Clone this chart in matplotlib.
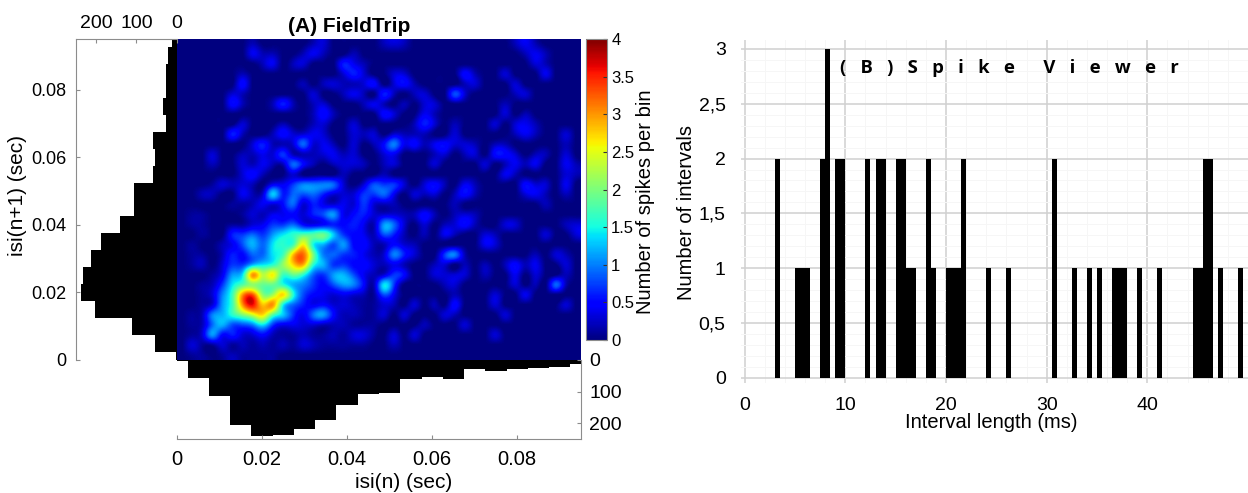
#!/usr/bin/env python

"""
joint isi density with marginals (A) next to an interval histogram (B)
"""

import numpy as np
import matplotlib
matplotlib.use('Agg')
import matplotlib.pyplot as plt

plt.rcParams['font.family'] = ['Liberation Sans', 'DejaVu Sans']

W, H = 1248, 493
GRAY = '#8c8c8c'

# panel A: bins are centred on multiples of 5 ms
isi_bins = [0.005 * i for i in range(20)]
isi_n1_counts = [2, 55, 111, 202, 236, 232, 212, 187, 140, 105, 105, 60, 55, 60, 28, 35, 28, 26, 23, 13]
isi_n_counts = [2, 56, 114, 205, 239, 236, 217, 191, 142, 109, 105, 61, 55, 60, 29, 35, 27, 24, 23, 13]
cbar_ticks = [0, 0.5, 1, 1.5, 2, 2.5, 3, 3.5, 4]
cbar_ticklabels = ['0', '0.5', '1', '1.5', '2', '2.5', '3', '3.5', '4']
isi_ticks = [0, 0.02, 0.04, 0.06, 0.08]
isi_ticklabels = ['0', '0.02', '0.04', '0.06', '0.08']
count_ticks = [0, 100, 200]

# density, tenths of a spike per bin, top row first
density = [
    [0,0,0,0,0,0,0,2,0,0,0,0,0,2,3,0,0,0,0,0,2,3,2,0,0,0,0,0,0,0,0,0,0,2,4,2,0,0,0,0],
    [0,0,0,0,0,0,0,4,2,2,0,0,2,4,2,0,0,2,0,0,0,0,0,0,0,0,0,0,0,0,0,0,0,0,2,4,2,0,0,0],
    [0,0,0,0,0,0,0,0,2,4,0,2,3,0,0,0,6,4,2,0,0,0,0,0,0,0,0,0,0,0,0,0,0,0,0,3,2,0,0,0],
    [0,0,0,0,0,0,2,0,0,0,0,0,0,0,0,0,3,6,3,0,0,3,3,0,0,0,0,0,5,2,0,0,3,0,0,0,4,0,0,0],
    [0,0,0,0,0,0,5,0,0,0,0,0,2,0,2,3,2,2,3,5,0,3,5,2,0,0,0,0,2,3,0,0,0,3,0,0,0,0,0,0],
    [0,0,0,0,0,3,2,0,0,0,0,0,0,3,0,0,2,4,2,0,6,2,0,2,3,0,0,8,3,0,0,0,0,2,3,0,0,0,0,0],
    [0,0,0,0,0,5,2,0,0,2,6,2,0,2,3,0,0,0,2,4,2,0,2,0,3,3,0,0,0,0,0,0,2,0,0,0,0,0,0,0],
    [0,0,0,0,0,0,0,0,0,0,0,0,0,2,5,2,0,0,0,0,5,3,0,0,4,2,0,0,0,0,0,0,3,0,2,0,0,0,0,0],
    [0,0,0,0,0,0,3,0,0,0,2,0,0,2,3,0,0,3,0,0,0,0,0,2,6,3,0,2,0,0,0,3,0,3,4,2,0,0,0,0],
    [0,0,0,0,0,6,2,0,0,2,5,3,3,4,3,0,0,3,2,3,0,3,2,2,2,0,0,3,0,0,0,0,0,2,4,2,0,0,3,0],
    [0,0,0,0,0,0,0,3,6,2,2,3,9,3,4,2,0,3,0,2,5,10,4,5,2,4,5,3,3,2,0,2,2,0,0,0,0,0,2,0],
    [0,0,0,3,0,0,2,2,4,3,7,2,2,2,3,4,2,3,0,0,3,4,0,0,0,2,3,0,2,3,0,5,5,3,0,2,2,0,3,0],
    [0,0,0,2,0,0,3,2,4,2,2,9,5,2,0,2,3,3,2,0,2,3,0,0,0,3,0,0,0,0,3,0,2,4,2,4,0,0,4,2],
    [0,0,0,0,0,0,3,5,2,0,0,3,0,0,0,0,2,0,0,0,2,0,0,0,0,0,0,0,0,0,0,0,4,2,0,0,0,0,3,2],
    [0,0,0,1,3,2,3,2,0,4,4,7,10,10,10,9,3,0,3,8,7,7,3,0,3,5,2,0,4,2,0,0,0,0,5,3,3,0,4,0],
    [0,0,2,2,0,0,4,2,3,13,6,9,8,9,6,3,3,3,7,7,9,4,0,3,2,3,0,2,5,2,0,0,0,0,3,4,2,0,2,0],
    [0,0,0,0,0,1,1,2,4,3,5,9,3,6,4,3,4,3,7,3,2,2,0,0,0,0,0,2,0,0,0,0,0,0,0,0,2,0,0,0],
    [0,1,1,0,0,0,1,3,2,4,4,5,3,6,8,11,4,5,6,3,3,3,2,2,5,2,0,2,3,2,0,0,0,0,0,0,0,0,0,0],
    [0,1,1,0,0,1,1,3,4,7,7,9,5,4,5,6,5,6,4,2,11,9,3,0,3,0,2,3,5,2,0,0,3,3,0,0,0,0,2,3],
    [0,0,1,0,0,6,7,9,7,11,14,16,18,18,19,13,7,5,4,2,8,6,2,0,2,0,4,2,0,0,3,2,0,0,0,0,3,0,0,3],
    [0,1,0,0,2,4,8,12,9,14,16,17,26,15,12,8,11,5,5,2,2,5,3,2,0,0,0,0,0,0,4,3,0,0,0,0,0,0,0,0],
    [0,1,1,0,2,6,5,9,9,14,17,28,32,20,10,9,7,6,4,2,3,10,6,3,0,0,7,10,2,0,0,0,0,0,0,2,0,3,2,0],
    [0,1,2,0,3,7,7,12,14,16,21,27,29,16,12,7,7,5,5,3,2,4,2,0,0,2,3,0,2,0,2,0,2,5,2,4,0,0,3,0],
    [0,0,0,1,4,11,14,30,23,26,17,19,16,9,7,11,12,8,4,2,3,7,5,0,0,3,3,3,3,0,2,0,0,4,0,3,0,0,2,0],
    [0,0,1,2,7,14,18,21,19,19,16,12,10,7,5,8,11,10,5,2,14,7,0,0,0,0,2,3,0,0,0,0,0,3,0,2,0,9,2,0],
    [0,0,1,3,10,17,30,33,21,22,27,16,8,5,4,3,4,3,2,1,8,4,0,0,0,0,0,2,0,0,0,3,0,0,4,0,0,0,0,0],
    [0,0,1,3,11,17,30,36,28,30,15,9,6,4,5,3,3,2,1,1,3,2,0,3,0,2,0,5,0,0,0,3,0,0,0,0,0,0,3,0],
    [0,1,2,10,12,16,20,24,27,18,13,7,4,9,11,5,2,2,1,1,3,0,3,0,0,0,3,2,0,0,0,0,3,0,0,0,0,0,0,0],
    [0,1,2,9,12,8,8,10,14,7,4,4,3,3,2,2,2,1,1,1,0,0,0,0,2,0,0,0,3,0,0,0,0,0,0,0,0,0,0,0],
    [0,1,3,11,5,6,3,3,5,2,1,1,2,1,1,2,1,3,3,1,0,3,0,3,0,0,0,0,0,0,0,3,0,0,0,0,0,0,0,0],
    [0,3,1,1,3,1,2,1,2,1,2,1,3,2,1,1,1,1,1,0,0,2,0,0,0,0,0,0,0,0,0,0,0,0,0,0,0,0,0,0],
    [0,1,1,0,1,2,1,1,1,1,0,0,0,0,0,0,0,0,0,0,0,0,0,0,0,0,0,0,0,0,0,0,0,0,0,0,0,0,0,0],
]

# panel B: left bin edge (ms) and count, 0.5 ms bins
interval_edges = [3, 5, 5.5, 6, 7.5, 8, 9, 9.5, 12, 13, 13.5, 15, 15.5, 16, 16.5, 18, 18.5,
                  20, 20.5, 21, 21.5, 24, 26, 30.5, 32.5, 34, 35, 36.5, 37, 37.5, 39, 41,
                  44.5, 45, 45.5, 46, 47, 49]
interval_counts = [2, 1, 1, 1, 2, 3, 2, 2, 2, 2, 2, 2, 2, 1, 1, 2, 1,
                   1, 1, 1, 2, 1, 1, 2, 1, 1, 1, 1, 1, 1, 1, 1,
                   1, 1, 2, 2, 1, 1]
interval_xticks = [0, 10, 20, 30, 40]
interval_yticks = [0, 0.5, 1, 1.5, 2, 2.5, 3]
interval_yticklabels = ['0', '0,5', '1', '1,5', '2', '2,5', '3']


def axes_px(fig, left, top, right, bottom):
    return fig.add_axes([left / W, 1 - bottom / H, (right - left) / W, (bottom - top) / H])


def fig_xy(x, y):
    return x / W, 1 - y / H


fig = plt.figure(figsize=(W / 100, H / 100), dpi=100)
isi_max = 0.095

# joint density
ax = axes_px(fig, 177, 39, 581, 360)
im = ax.imshow(np.array(density) / 10.0, cmap='jet', vmin=0, vmax=4, aspect='auto',
               interpolation='spline36', extent=[0, isi_max, 0, isi_max])
ax.set_xticks([])
ax.set_yticks([])
for s in ax.spines.values():
    s.set_visible(False)
ax.set_title('(A) FieldTrip', fontsize=15, fontweight='bold', pad=0, x=0.426, y=1.022)

# left marginal
axl = axes_px(fig, 76, 39, 177, 360)
axl.barh(isi_bins, isi_n1_counts, height=0.005, color='k', linewidth=0)
axl.set_xlim(249, 0)
axl.set_ylim(0, isi_max)
axl.spines['right'].set_visible(False)
axl.spines['bottom'].set_visible(False)
axl.spines['left'].set_color(GRAY)
axl.spines['top'].set_color(GRAY)
axl.xaxis.tick_top()
axl.set_xticks(count_ticks)
axl.set_yticks(isi_ticks)
axl.set_yticklabels(isi_ticklabels)
axl.tick_params(direction='in', length=3, color=GRAY)
axl.tick_params(axis='y', labelsize=13, pad=7)
axl.tick_params(axis='x', labelsize=14, pad=5)
axl.set_ylabel('isi(n+1) (sec)', fontsize=15, va='center')
axl.yaxis.set_label_coords(*fig_xy(18, 196), transform=fig.transFigure)

# bottom marginal
axb = axes_px(fig, 177, 360, 581, 439)
axb.bar(isi_bins, isi_n_counts, width=0.005, color='k', linewidth=0)
axb.set_xlim(0, isi_max)
axb.set_ylim(250, 0)
axb.spines['top'].set_visible(False)
axb.spines['left'].set_visible(False)
axb.spines['right'].set_color(GRAY)
axb.spines['bottom'].set_color(GRAY)
axb.yaxis.tick_right()
axb.set_yticks(count_ticks)
axb.set_xticks(isi_ticks)
axb.set_xticklabels(isi_ticklabels)
axb.tick_params(direction='in', length=3, color=GRAY)
axb.tick_params(axis='x', labelsize=14.5, pad=8)
axb.tick_params(axis='y', labelsize=14, pad=6)
axb.set_xlabel('isi(n) (sec)', fontsize=15, va='center')
axb.xaxis.set_label_coords(*fig_xy(404, 483), transform=fig.transFigure)

# colorbar
cax = axes_px(fig, 586, 39, 607, 340)
cb = fig.colorbar(im, cax=cax)
cb.set_ticks(cbar_ticks)
cb.set_ticklabels(cbar_ticklabels)
cb.outline.set_edgecolor(GRAY)
cax.tick_params(direction='in', length=3, width=0.8, labelsize=12, pad=3, color='#333333')
cb.set_label('Number of spikes per bin', fontsize=14.5, va='center')
cax.yaxis.set_label_coords(*fig_xy(645, 202), transform=fig.transFigure)

# interval histogram
axr = axes_px(fig, 741, 40, 1248, 383)
axr.bar(interval_edges, interval_counts, width=0.5, align='edge', color='k', linewidth=0, zorder=3)
axr.set_xlim(-0.36, 50)
axr.set_ylim(-0.048, 3.082)
axr.set_xticks(interval_xticks)
axr.set_yticks(interval_yticks)
axr.set_yticklabels(interval_yticklabels)
axr.set_xticks(np.arange(2, 50, 2), minor=True)
axr.set_yticks(np.arange(0, 3.05, 0.1), minor=True)
axr.grid(True, which='major', color='#d0d0d0', linewidth=1.1, zorder=1)
axr.grid(True, which='minor', color='#f6f6f6', linewidth=0.7, zorder=0)
axr.tick_params(which='both', length=0, labelsize=14)
axr.tick_params(axis='y', pad=11)
axr.tick_params(axis='x', pad=10)
for s in axr.spines.values():
    s.set_visible(False)
axr.set_xlabel('Interval length (ms)', fontsize=14.5, va='center')
axr.xaxis.set_label_coords(*fig_xy(991, 422), transform=fig.transFigure)
axr.set_ylabel('Number of intervals', fontsize=14.5, va='center')
axr.yaxis.set_label_coords(*fig_xy(686, 212), transform=fig.transFigure)
axr.text(*fig_xy(840, 68), '(   B   )   S   p   i   k   e      V   i   e   w   e   r', transform=fig.transFigure,
         family=['Open Sans', 'DejaVu Sans'], fontweight='bold', fontsize=13.3, va='center', ha='left', zorder=5)

fig.savefig('out.png', dpi=100)
